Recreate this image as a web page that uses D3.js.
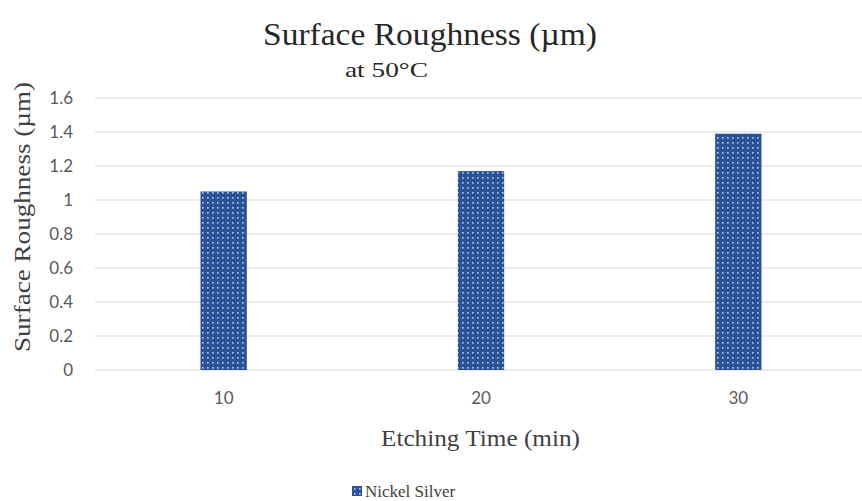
<!DOCTYPE html>
<html>
<head>
<meta charset="utf-8">
<script src="https://cdn.jsdelivr.net/npm/d3@7"></script>
<style>
  html, body { margin: 0; padding: 0; background: #fff; }
  svg { display: block; }
</style>
</head>
<body>
<div id="chart"></div>
<script>
// Etching time categories (minutes) and measured surface roughness (µm)
const categories = ["10", "20", "30"];
const roughness = [1.05, 1.17, 1.39];
const yTicks = [0, 0.2, 0.4, 0.6, 0.8, 1, 1.2, 1.4, 1.6];
const seriesName = "Nickel Silver";

const W = 862, H = 501;
const plot = { left: 95, right: 867, top: 98, bottom: 370 };

const svg = d3.select("#chart").append("svg")
  .attr("width", W).attr("height", H);

// Dotted fill used by the bars and the legend swatch
const defs = svg.append("defs");
const pat = defs.append("pattern")
  .attr("id", "dots")
  .attr("patternUnits", "userSpaceOnUse")
  .attr("width", 5).attr("height", 5);
pat.append("rect").attr("width", 5).attr("height", 5).attr("fill", "#2b5196");
pat.append("rect").attr("x", 2).attr("y", 2).attr("width", 1.7).attr("height", 1.7)
  .attr("fill", "#a8c0e6");

const x = d3.scaleBand().domain(categories)
  .range([plot.left, plot.right]).paddingInner(0).paddingOuter(0);
const y = d3.scaleLinear().domain([0, 1.6]).range([plot.bottom, plot.top]);

// Horizontal gridlines
svg.append("g").selectAll("line").data(yTicks).join("line")
  .attr("x1", plot.left).attr("x2", plot.right)
  .attr("y1", d => y(d)).attr("y2", d => y(d))
  .attr("stroke", "#d9d9d9").attr("stroke-width", 1.2);

const sans = "Lato, 'Open Sans', sans-serif";

// Y axis tick labels
const yAxis = d3.axisLeft(y).tickValues(yTicks).tickSize(0).tickPadding(0)
  .tickFormat(d3.format("~g"));
const gy = svg.append("g").attr("transform", `translate(${plot.left - 22},0)`).call(yAxis);
gy.select(".domain").remove();
gy.selectAll("text")
  .attr("font-family", sans)
  .attr("font-size", 17).attr("fill", "#595959");

// X axis tick labels
const xAxis = d3.axisBottom(x).tickSize(0).tickPadding(0);
const gx = svg.append("g").attr("transform", `translate(0,${plot.bottom + 22})`).call(xAxis);
gx.select(".domain").remove();
gx.selectAll("text")
  .attr("font-family", sans)
  .attr("font-size", 17).attr("fill", "#595959");

// Bars
const barW = x.bandwidth() * 0.18;
svg.append("g").selectAll("rect").data(roughness).join("rect")
  .attr("x", (d, i) => x(categories[i]) + x.bandwidth() / 2 - barW / 2)
  .attr("width", barW)
  .attr("y", d => y(d))
  .attr("height", d => y(0) - y(d))
  .attr("fill", "url(#dots)");

const serif = "'Liberation Serif', 'DejaVu Serif', serif";

// Title and subtitle
svg.append("text").attr("x", 430).attr("y", 45)
  .attr("text-anchor", "middle").attr("font-family", serif)
  .attr("font-size", 31).attr("fill", "#262626")
  .attr("textLength", 334).attr("lengthAdjust", "spacingAndGlyphs")
  .text("Surface Roughness (µm)");
svg.append("text").attr("x", 386.5).attr("y", 77)
  .attr("text-anchor", "middle").attr("font-family", serif)
  .attr("font-size", 22).attr("fill", "#262626")
  .attr("textLength", 83).attr("lengthAdjust", "spacingAndGlyphs")
  .text("at 50°C");

// Axis titles
svg.append("text")
  .attr("transform", `translate(30,217) rotate(-90)`)
  .attr("text-anchor", "middle").attr("font-family", serif)
  .attr("font-size", 23).attr("fill", "#404040")
  .attr("textLength", 270).attr("lengthAdjust", "spacingAndGlyphs")
  .text("Surface Roughness (µm)");
svg.append("text").attr("x", 480.5).attr("y", 446)
  .attr("text-anchor", "middle").attr("font-family", serif)
  .attr("font-size", 23).attr("fill", "#404040")
  .attr("textLength", 199).attr("lengthAdjust", "spacingAndGlyphs")
  .text("Etching Time (min)");

// Legend
const lg = svg.append("g").attr("transform", "translate(352,486)");
lg.append("rect").attr("width", 10).attr("height", 10).attr("fill", "url(#dots)");
lg.append("text").attr("x", 13).attr("y", 10.5)
  .attr("font-family", serif).attr("font-size", 17).attr("fill", "#404040")
  .text(seriesName);
</script>
</body>
</html>
